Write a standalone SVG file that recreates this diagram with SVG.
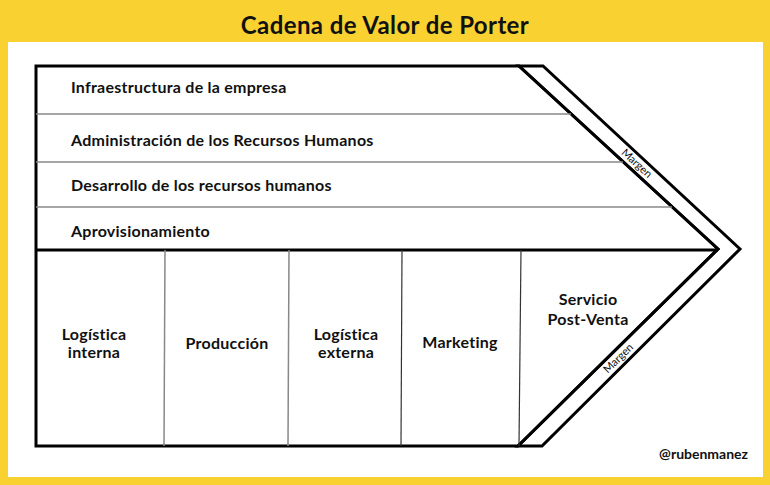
<svg xmlns="http://www.w3.org/2000/svg" width="770" height="485" viewBox="0 0 770 485">
<style>
.t{font-family:Lato,"Open Sans","Liberation Sans",sans-serif;font-weight:700;fill:#111;}
.s{font-size:16px;letter-spacing:0.25px;}
.m{font-size:11px;font-weight:400;}
.thin{stroke:#888;stroke-width:1.5;fill:none;}
.thick{stroke:#000;stroke-width:3;fill:none;stroke-linejoin:miter;}
</style>
<rect x="0" y="0" width="770" height="485" fill="#F9D232"/>
<rect x="8" y="42" width="755" height="435" fill="#fff"/>
<text class="t" x="385" y="34" font-size="24" letter-spacing="0.4" text-anchor="middle">Cadena de Valor de Porter</text>

<g id="frame">
<polygon points="36,66 519,66 718,249 518,446 36,446" fill="#fff" class="thick"/>
<polygon points="519,66 543,66 740,249 542,446 518,446 718,249" class="thick" fill="#fff"/>
</g>

<g id="connectors">
<line x1="36" y1="114" x2="571" y2="114" class="thin"/>
<line x1="36" y1="162" x2="623" y2="162" class="thin"/>
<line x1="36" y1="207" x2="672" y2="207" class="thin"/>
<line x1="36" y1="250" x2="718" y2="250" class="thick"/>
<line x1="165" y1="250" x2="164" y2="446" class="thin"/>
<line x1="289" y1="250" x2="288" y2="446" class="thin"/>
<line x1="402" y1="250" x2="401" y2="446" stroke="#333" stroke-width="1.2"/>
<line x1="521" y1="250" x2="519" y2="446" stroke="#333" stroke-width="1.2"/>
</g>

<g id="infraestructura"><text class="t s" x="71" y="93">Infraestructura de la empresa</text></g>
<g id="rrhh"><text class="t s" x="71" y="146">Administración de los Recursos Humanos</text></g>
<g id="desarrollo"><text class="t s" x="71" y="191">Desarrollo de los recursos humanos</text></g>
<g id="aprovisionamiento"><text class="t s" x="71" y="237">Aprovisionamiento</text></g>

<g id="logistica-interna"><text class="t s" text-anchor="middle" x="94" y="340">Logística</text><text class="t s" text-anchor="middle" x="94" y="358">interna</text></g>
<g id="produccion"><text class="t s" text-anchor="middle" x="227" y="349">Producción</text></g>
<g id="logistica-externa"><text class="t s" text-anchor="middle" x="346" y="340">Logística</text><text class="t s" text-anchor="middle" x="346" y="358">externa</text></g>
<g id="marketing"><text class="t s" text-anchor="middle" x="460" y="348">Marketing</text></g>
<g id="servicio"><text class="t s" text-anchor="middle" x="588" y="305">Servicio</text><text class="t s" text-anchor="middle" x="588" y="325">Post-Venta</text></g>

<g id="margen-top"><text class="t m" text-anchor="middle" transform="translate(634.3,166) rotate(42.6)">Margen</text></g>
<g id="margen-bottom"><text class="t m" text-anchor="middle" transform="translate(620.8,360.8) rotate(-44.6)">Margen</text></g>

<text class="t" x="748" y="459" font-size="14" text-anchor="end">@rubenmanez</text>
</svg>
